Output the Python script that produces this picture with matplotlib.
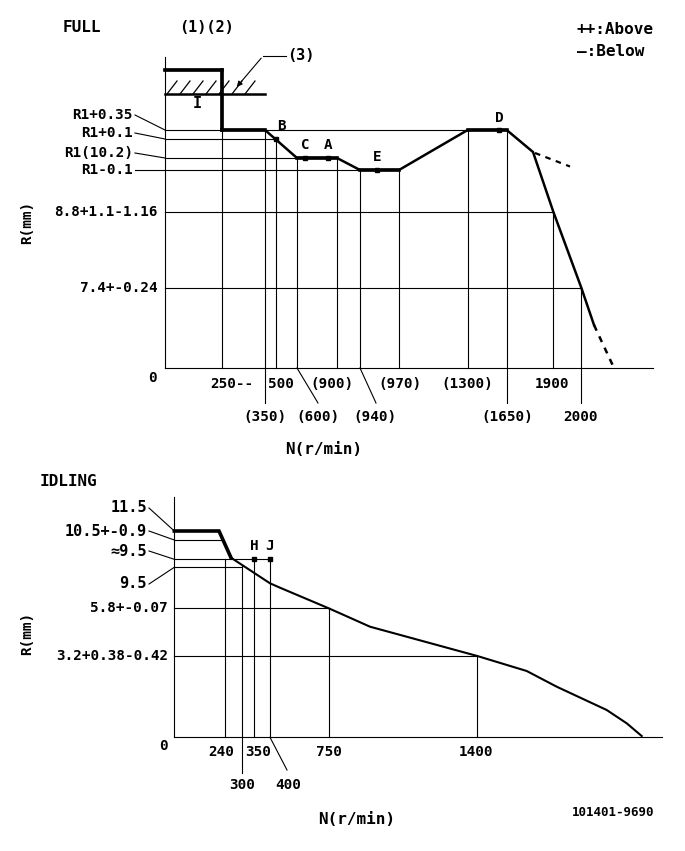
import numpy as np
import matplotlib
matplotlib.use("Agg")
import matplotlib.pyplot as plt

FONT = ["DejaVu Sans Mono", "DejaVu Sans"]
plt.rcParams["font.family"] = FONT
plt.rcParams["font.weight"] = "bold"

# ---------------- FULL chart (schematic positions) ----------------
full_origin = (165, 368)
full_top = 57
full_right = 653

full_r_labels = ["R1+0.35", "R1+0.1", "R1(10.2)", "R1-0.1", "8.8+1.1-1.16", "7.4+-0.24"]
full_r_pos = [130, 139, 158, 170, 211.7, 287.7]
full_r_line_end = [467.7, 276, 297, 360, 553.3, 581.3]

full_n_labels = ["250--", "(350)", "500", "(600)", "(900)", "(940)", "(970)", "(1300)", "(1650)", "1900", "2000"]
full_n_pos = [222, 265, 276, 297, 337, 360, 399, 467.7, 506.7, 553.3, 581.3]
full_n_top = [130, 130, 139, 158, 158, 170, 170, 130, 130, 211.7, 287.7]

full_curve_x = [165, 222, 222, 265, 297, 337, 360, 399, 467.7, 506.7, 533, 553.3, 581.3, 594]
full_curve_y = [70, 70, 130, 130, 158, 158, 170, 170, 130, 130, 152, 211.7, 287.7, 325]
full_dash_x = [594, 614]
full_dash_y = [325, 368]
full_below_x = [535, 570]
full_below_y = [153, 166.5]

full_points = ["B", "C", "A", "E", "D"]
full_points_x = [276, 305, 328, 377, 499]
full_points_y = [139, 158, 158, 170, 130]

# ---------------- IDLING chart ----------------
idl_origin = (174.3, 737.3)
idl_top = 496.7
idl_right = 661.7

idl_r_labels = ["11.5", "10.5+-0.9", "\u22489.5", "9.5", "5.8+-0.07", "3.2+0.38-0.42"]
idl_r_pos = [531, 540, 559.3, 567.3, 608.3, 656]
idl_r_line_end = [174.3, 223, 270, 242.3, 328.7, 477.3]

idl_n_labels = ["240", "300", "350", "400", "750", "1400"]
idl_n_pos = [224.7, 242.3, 254.3, 270, 328.7, 477.3]
idl_n_top = [559.3, 565, 559.3, 559.3, 608.3, 656]

idl_thick_x = [174.3, 219, 231]
idl_thick_y = [531, 531, 557.7]
idl_curve_x = [231, 270, 280, 328.7, 340, 370, 477.3, 526.7, 556.7, 606.7, 626.7, 641.7]
idl_curve_y = [557.7, 583.3, 587.7, 608.3, 613.3, 626.7, 656, 671, 686.7, 710, 723.3, 736]

idl_points = ["H", "J"]
idl_points_x = [254.3, 270]
idl_points_y = [559.3, 559.3]

# ---------------- drawing ----------------
fig = plt.figure(figsize=(6.85, 8.51), dpi=100)
ax = fig.add_axes([0, 0, 1, 1])
ax.set_xlim(0, 685)
ax.set_ylim(851, 0)
ax.axis("off")

K = "black"
thin = 0.8
fs = 10.3

def txt(x, y, s, ha="left", va="center", size=fs, rot=0):
    ax.text(x, y, s, ha=ha, va=va, fontsize=size, color=K, rotation=rot,
            family=FONT, fontweight="bold")

# ---- FULL ----
ox, oy = full_origin
ax.plot([ox, ox], [oy, full_top], color=K, lw=thin)
ax.plot([ox, full_right], [oy, oy], color=K, lw=thin)

for y, xe in zip(full_r_pos, full_r_line_end):
    ax.plot([ox, xe], [y, y], color=K, lw=thin)

for x, yt, lab in zip(full_n_pos, full_n_top, full_n_labels):
    ybot = 403 if lab in ("(350)", "(1650)", "2000") else oy
    ax.plot([x, x], [ybot, yt], color=K, lw=thin)

# hatch box
ax.plot([ox, 265], [94, 94], color=K, lw=1.8)
for hx in np.arange(167, 258, 13):
    ax.plot([hx, hx + 10], [94, 81], color=K, lw=0.9)

# curve
ax.plot(full_curve_x, full_curve_y, color=K, lw=1.8, solid_joinstyle="miter")
flat_idx = [(0, 1), (1, 2), (2, 3), (4, 5), (6, 7), (8, 9)]
for i, j in flat_idx:
    ax.plot([full_curve_x[i], full_curve_x[j]], [full_curve_y[i], full_curve_y[j]], color=K, lw=2.6)
ax.plot(full_dash_x, full_dash_y, color=K, lw=1.8, ls=(0, (2.5, 2.5)))
ax.plot(full_below_x, full_below_y, color=K, lw=1.6, ls=(0, (2.5, 2.5)))
ax.plot(full_points_x, full_points_y, "s", color=K, ms=2.5)
label_off = {"B": (1, -13), "C": (0, -13), "A": (0, -13), "E": (0, -13), "D": (0, -12)}
for p, x, y in zip(full_points, full_points_x, full_points_y):
    dx, dy = label_off[p]
    txt(x + dx, y + dy, p, ha="left" if p == "B" else "center")

# left labels FULL
leader_y = {"R1+0.35": 115, "R1+0.1": 133, "R1(10.2)": 153, "R1-0.1": 170}
for lab, y in zip(full_r_labels, full_r_pos):
    if lab in leader_y:
        ly = leader_y[lab]
        txt(133, ly, lab, ha="right")
        ax.plot([135, ox], [ly, y], color=K, lw=thin)
    else:
        txt(158, y, lab, ha="right")
txt(152, 378, "0", ha="center")
txt(27, 222, "R(mm)", ha="center", rot=90)

# x labels FULL
row1 = {"250--": 232, "500": 281, "(900)": 332, "(970)": 399.5, "(1300)": 467.5, "1900": 552}
row2 = {"(350)": 265, "(600)": 318, "(940)": 375, "(1650)": 507, "2000": 581}
for lab in full_n_labels:
    if lab in row1:
        txt(row1[lab], 384, lab, ha="center")
    else:
        txt(row2[lab], 417, lab, ha="center")
# slanted leaders
ax.plot([297, 318], [368, 403], color=K, lw=thin)
ax.plot([360, 376], [368, 403], color=K, lw=thin)

txt(324, 450, "N(r/min)", ha="center", size=11.5)
txt(63, 27, "FULL", size=11.5)
txt(179, 27, "(1)(2)", size=11)
txt(287, 56, "(3)", size=11)
txt(197, 104, "I", ha="center", size=11)
ax.annotate("", xy=(235, 89), xytext=(263, 56),
            arrowprops=dict(arrowstyle="-|>", color=K, lw=thin, mutation_scale=8))
ax.plot([263, 286], [56, 56], color=K, lw=thin)
txt(577, 29, "++:Above", size=11.5)
txt(577, 52, "\u2014:Below", size=11.5)

# ---- IDLING ----
ox, oy = idl_origin
ax.plot([ox, ox], [oy, idl_top], color=K, lw=thin)
ax.plot([ox, idl_right], [oy, oy], color=K, lw=thin)

for y, xe in zip(idl_r_pos, idl_r_line_end):
    if xe > ox:
        ax.plot([ox, xe], [y, y], color=K, lw=thin)
for x, yt, lab in zip(idl_n_pos, idl_n_top, idl_n_labels):
    ybot = 773 if lab == "300" else oy
    ax.plot([x, x], [ybot, yt], color=K, lw=thin)
ax.plot([270, 287], [737.3, 770], color=K, lw=thin)

ax.plot(idl_thick_x, idl_thick_y, color=K, lw=2.6, solid_joinstyle="miter")
ax.plot(idl_curve_x, idl_curve_y, color=K, lw=1.5)
ax.plot(idl_points_x, idl_points_y, "s", color=K, ms=3)
for p, x, y in zip(idl_points, idl_points_x, idl_points_y):
    txt(x, y - 13, p, ha="center")

idl_leader_y = {"11.5": 508, "10.5+-0.9": 531, "\u22489.5": 551, "9.5": 584}
for lab, y in zip(idl_r_labels, idl_r_pos):
    if lab in idl_leader_y:
        ly = idl_leader_y[lab]
        txt(147, ly, lab, ha="right", size=11)
        ax.plot([149, ox], [ly, y], color=K, lw=thin)
    else:
        txt(168, y, lab, ha="right")
txt(163, 746, "0", ha="center")
txt(27, 633, "R(mm)", ha="center", rot=90)

idl_row1 = {"240": 221, "350": 258.5, "750": 329, "1400": 476.5}
idl_row2 = {"300": 242, "400": 288.5}
for lab in idl_n_labels:
    if lab in idl_row1:
        txt(idl_row1[lab], 752, lab, ha="center")
    else:
        txt(idl_row2[lab], 785, lab, ha="center")

txt(40, 481, "IDLING", size=11.5)
txt(356.5, 820, "N(r/min)", ha="center", size=11.5)
txt(613, 812, "101401-9690", ha="center", size=9)

fig.savefig("out.png", dpi=100, facecolor="white")
